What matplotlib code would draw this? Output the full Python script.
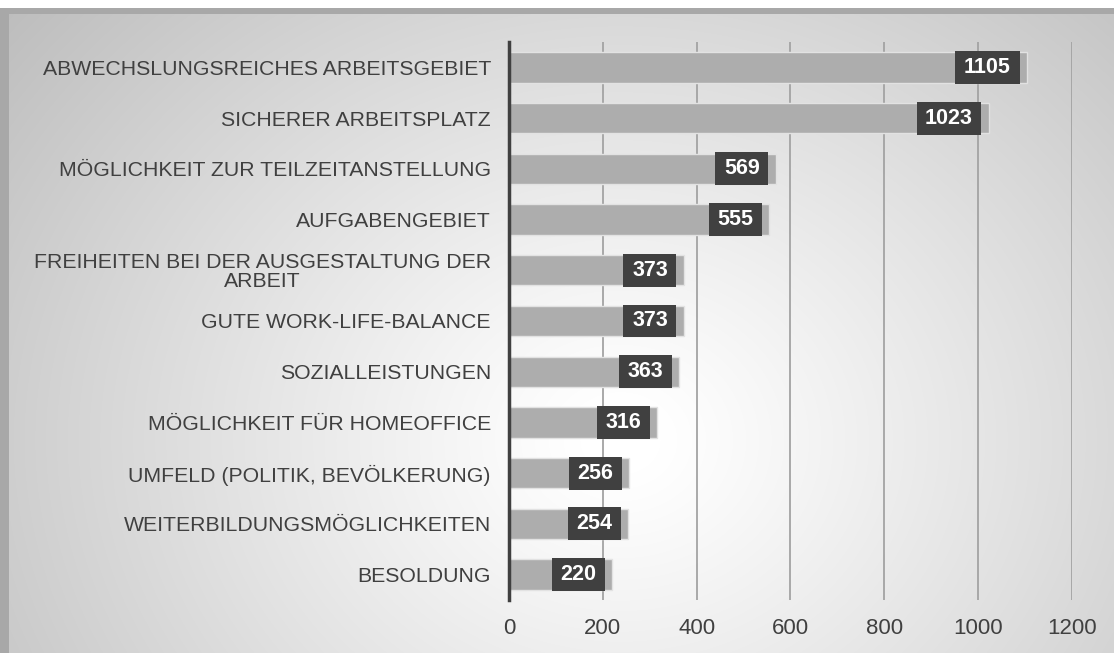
"""Horizontal bar chart: ranking of job attributes (counts), gradient backdrop."""
import numpy as np
import matplotlib
matplotlib.use("Agg")
import matplotlib.pyplot as plt
from matplotlib.patches import Rectangle

plt.rcParams["font.family"] = ["Liberation Sans", "DejaVu Sans"]

CATEGORIES = [
    "ABWECHSLUNGSREICHES ARBEITSGEBIET",
    "SICHERER ARBEITSPLATZ",
    "MÖGLICHKEIT ZUR TEILZEITANSTELLUNG",
    "AUFGABENGEBIET",
    "FREIHEITEN BEI DER AUSGESTALTUNG DER\nARBEIT",
    "GUTE WORK-LIFE-BALANCE",
    "SOZIALLEISTUNGEN",
    "MÖGLICHKEIT FÜR HOMEOFFICE",
    "UMFELD (POLITIK, BEVÖLKERUNG)",
    "WEITERBILDUNGSMÖGLICHKEITEN",
    "BESOLDUNG",
]
VALUES = [1105, 1023, 569, 555, 373, 373, 363, 316, 256, 254, 220]
X_TICKS = [0, 200, 400, 600, 800, 1000, 1200]

TEXT = "#404040"
BAR = "#adadad"
BOX = "#404040"

W, H = 1114, 653
fig = plt.figure(figsize=(W / 100, H / 100), dpi=100)

# radial grey-to-white backdrop
bg = fig.add_axes([0, 0, 1, 1], zorder=-10)
yy, xx = np.mgrid[0:H, 0:W]
d = np.sqrt(((xx - 620) / 1.0) ** 2 + ((yy - 440) / 0.85) ** 2)
v = 1.0 - 0.26 * np.clip((d - 40) / 760, 0, 1) ** 1.1
bg.imshow(np.dstack([v, v, v]), extent=[0, W, H, 0], aspect="auto", interpolation="bilinear")
bg.add_patch(Rectangle((0, 0), W, 8, color="white", lw=0))
bg.add_patch(Rectangle((0, 8), W, 6, color="#a8a8a8", lw=0))
bg.add_patch(Rectangle((0, 8), 9, H, color="#a8a8a8", lw=0))
bg.set_xlim(0, W)
bg.set_ylim(H, 0)
bg.axis("off")

ax = fig.add_axes([509 / W, 1 - 600 / H, 563 / W, 558 / H])
ax.patch.set_alpha(0)
y = np.arange(len(CATEGORIES))

ax.barh(y, VALUES, height=0.6, color=BAR, edgecolor="#e2e2e2", linewidth=1.0, zorder=3)

# dark value boxes sitting just inside the bar end
px = 1200 / 563  # data units per pixel
for i, val in enumerate(VALUES):
    label = str(val)
    bw = (len(label) * 11.7 + 18) * px
    right = val - 7.5 * px
    ax.barh(i, bw, left=right - bw, height=0.65, color=BOX, zorder=4)
    ax.text(right - bw / 2, i, label, ha="center", va="center", color="white",
            fontsize=15.5, fontweight="bold", zorder=5)

ax.set_xlim(0, 1200)
ax.set_ylim(10.5, -0.5)
ax.set_xticks(X_TICKS)
ax.set_yticks(y)
ax.set_yticklabels(CATEGORIES, fontsize=15.3, color=TEXT, linespacing=1.0,
                   multialignment="center")
ax.tick_params(axis="both", length=0, labelcolor=TEXT)
ax.tick_params(axis="y", pad=13)
ax.tick_params(axis="x", pad=13, labelsize=16)

ax.grid(axis="x", color="#a3a3a3", linewidth=1.3, zorder=0)
ax.set_axisbelow(True)
for s in ["top", "right", "bottom"]:
    ax.spines[s].set_visible(False)
ax.spines["left"].set_color("#404040")
ax.spines["left"].set_linewidth(2.5)
ax.spines["left"].set_zorder(6)

fig.savefig("out.png", dpi=100)
